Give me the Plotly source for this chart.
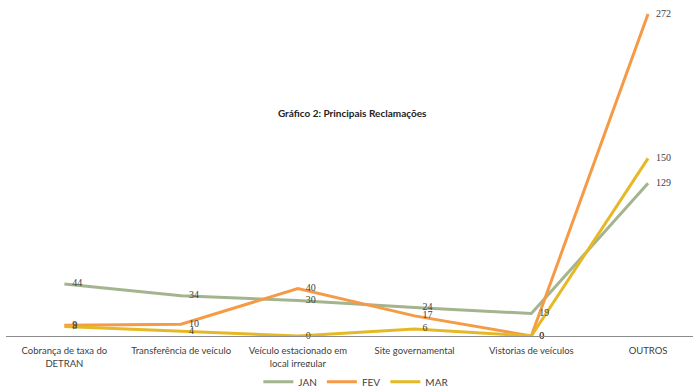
import plotly.graph_objects as go

categories = [
    "Cobrança de taxa do<br>DETRAN",
    "Transferência de veículo",
    "Veículo estacionado em<br>local irregular",
    "Site governamental",
    "Vistorias de veículos",
    "OUTROS",
]
jan = [44, 34, 30, 24, 19, 129]
fev = [9, 10, 40, 17, 0, 272]
mar = [8, 4, 0, 6, 0, 150]

series = [
    ("JAN", jan, "#A3B48F"),
    ("FEV", fev, "#F59A45"),
    ("MAR", mar, "#E5B926"),
]

fig = go.Figure()
for name, vals, color in series:
    fig.add_trace(go.Scatter(
        x=categories, y=vals, name=name, mode="lines",
        line=dict(color=color, width=3),
        legendgroup=name,
    ))
for name, vals, color in series:
    # value labels, kept a few pixels right of each point by invisible markers
    fig.add_trace(go.Scatter(
        x=categories, y=vals, name=name, mode="markers+text",
        marker=dict(size=11, opacity=0, color=color),
        text=[str(v) for v in vals],
        textposition="middle right",
        textfont=dict(family="Liberation Serif", size=10, color="#404040"),
        cliponaxis=False, showlegend=False, legendgroup=name,
        hoverinfo="skip",
    ))

fig.update_layout(
    width=696, height=390,
    margin=dict(l=6, r=3, t=10, b=54, autoexpand=False),
    paper_bgcolor="white", plot_bgcolor="white",
    title=dict(
        text="<b>Gráfico 2: Principais Reclamações</b>",
        x=0.506, xanchor="center", yref="container", y=1 - 113 / 390, yanchor="middle",
        font=dict(family="Lato", size=10, color="#222222"),
    ),
    xaxis=dict(
        type="category", range=[-0.5, 5.385],
        showline=True, linecolor="#8C8C8C", linewidth=1,
        showgrid=False, ticks="", zeroline=False,
        ticklabelstandoff=6,
        tickfont=dict(family="Lato", size=9.5, color="#404040"),
    ),
    yaxis=dict(
        range=[0, 275.4], visible=False, showgrid=False, zeroline=False,
    ),
    legend=dict(
        orientation="h", x=0.51, xanchor="center", y=-0.14, yanchor="middle",
        font=dict(family="Lato", size=10, color="#404040"),
        itemwidth=30, tracegroupgap=0,
    ),
    showlegend=True,
)

fig.write_html("out.html")
